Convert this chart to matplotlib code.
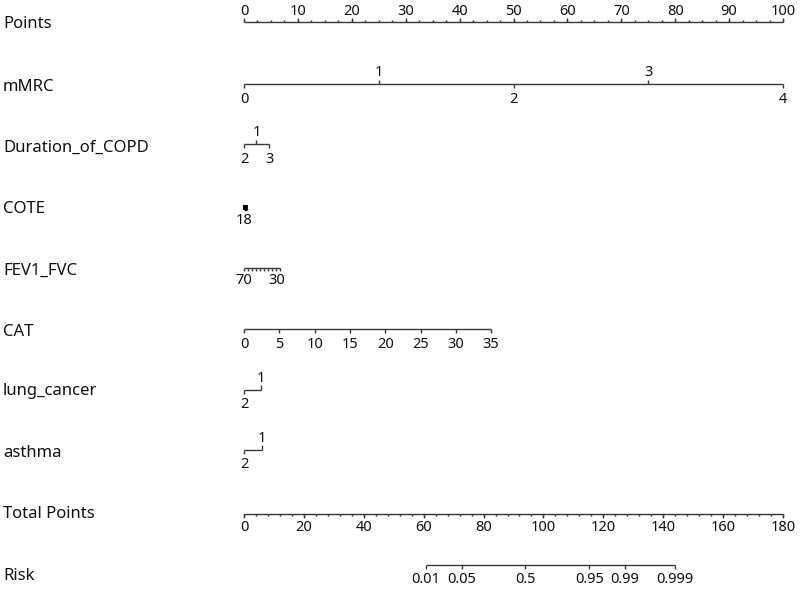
import numpy as np
import matplotlib
matplotlib.use("Agg")
import matplotlib.pyplot as plt

plt.rcParams['font.family'] = ['Noto Sans', 'DejaVu Sans']

# ---- data ----
row_names = ["Points", "mMRC", "Duration_of_COPD", "COTE", "FEV1_FVC", "CAT",
             "lung_cancer", "asthma", "Total Points", "Risk"]

points_major = list(range(0, 101, 10))
points_minor_step = 2.5

mmrc_values = ["0", "1", "2", "3", "4"]
mmrc_points = [0, 25, 50, 75, 100]
mmrc_sides = ["below", "above", "below", "above", "below"]

duration_values = ["2", "1", "3"]
duration_points = [0, 2.3, 4.7]
duration_sides = ["below", "above", "below"]

cote_values = list(range(18, -1, -2))          # 18 ... 0
cote_points = list(np.linspace(0, 0.5, len(cote_values)))
cote_labels = ["18"]

fev_values = [70, 65, 60, 55, 50, 45, 40, 35, 30, 25]
fev_points = [0, 0.75, 1.5, 2.25, 3.0, 3.75, 4.5, 5.25, 6.0, 6.75]
fev_labels = {70: "70", 30: "30"}

cat_values = [0, 5, 10, 15, 20, 25, 30, 35]
cat_points = [0, 6.55, 13.1, 19.65, 26.2, 32.75, 39.3, 45.85]

lung_values = ["2", "1"]
lung_points = [0, 3.2]
asthma_values = ["2", "1"]
asthma_points = [0, 3.3]

total_major = list(range(0, 181, 20))
total_minor_step = 4
total_max = 180

risk_values = [0.01, 0.05, 0.5, 0.95, 0.99, 0.999]
risk_labels = ["0.01", "0.05", "0.5", "0.95", "0.99", "0.999"]
risk_intercept = 94.0   # total points at logit = 0
risk_slope = 7.229      # total points per logit unit

# ---- layout ----
W, H = 800, 590
x0_px, x100_px = 244, 783
scale = (x100_px - x0_px) / 100.0

fig = plt.figure(figsize=(8, 5.9), dpi=100)
ax = fig.add_axes([0, 0, 1, 1])
ax.set_xlim(-x0_px / scale, (W - x0_px) / scale)
ax.set_ylim(H, 0)
ax.axis("off")

LC = "#383838"
LW = 1.0
TICK = 4
FS_LAB = 12
FS_TICK = 10.5
TC = "#111111"

row_y = [22, 84, 144, 210, 268, 329, 390, 450, 514, 565]
name_y = [24, 87, 148, 209, 271, 332, 391, 453, 514, 576]

for name, y in zip(row_names, name_y):
    ax.text(-x0_px / scale + 3 / scale, y, name, fontsize=FS_LAB,
            va="center", ha="left", color=TC)


def hline(x1, x2, y, color=LC):
    ax.plot([x1, x2], [y, y], color=color, lw=LW, solid_capstyle="butt")


def tick(x, y, side, length=TICK, color=LC, lw=LW):
    d = length if side == "below" else -length
    ax.plot([x, x], [y, y + d], color=color, lw=lw, solid_capstyle="butt")


def label(x, y, s, side, gap=5):
    if side == "below":
        ax.text(x, y + gap, s, fontsize=FS_TICK, ha="center", va="top", color=TC)
    else:
        ax.text(x, y - gap, s, fontsize=FS_TICK, ha="center", va="baseline", color=TC)


# Points
y = row_y[0]
hline(0, 100, y)
for v in np.arange(0, 100 + 1e-9, points_minor_step):
    tick(v, y, "above", 2)
for v in points_major:
    tick(v, y, "above", 4)
    label(v, y, str(v), "above", 7)

# mMRC
y = row_y[1]
hline(min(mmrc_points), max(mmrc_points), y)
for s, p, sd in zip(mmrc_values, mmrc_points, mmrc_sides):
    tick(p, y, sd)
    label(p, y, s, sd, 8)

# Duration_of_COPD
y = row_y[2]
hline(min(duration_points), max(duration_points), y)
for s, p, sd in zip(duration_values, duration_points, duration_sides):
    tick(p, y, sd)
    label(p, y, s, sd, 8)

# COTE
y = row_y[3]
hline(min(cote_points), max(cote_points), y, color="#000000")
for p in cote_points:
    tick(p, y, "above", 5, color="#000000", lw=1.3)
label(cote_points[0], y, cote_labels[0], "below", 3)

# FEV1_FVC
y = row_y[4]
hline(min(fev_points), max(fev_points), y)
for v, p in zip(fev_values, fev_points):
    tick(p, y, "below", 3)
    if v in fev_labels:
        label(p, y, fev_labels[v], "below", 5)

# CAT
y = row_y[5]
hline(min(cat_points), max(cat_points), y)
for v, p in zip(cat_values, cat_points):
    tick(p, y, "below")
    label(p, y, str(v), "below", 8)

# lung_cancer / asthma
for idx, (vals, pts) in zip([6, 7], [(lung_values, lung_points), (asthma_values, asthma_points)]):
    y = row_y[idx]
    hline(min(pts), max(pts), y)
    tick(pts[0], y, "below")
    label(pts[0], y, vals[0], "below", 7)
    tick(pts[1], y, "above", 5)
    label(pts[1], y, vals[1], "above", 8)

# Total Points
y = row_y[8]
tp2pts = 100.0 / total_max
hline(0, 100, y)
for v in np.arange(0, total_max + 1e-9, total_minor_step):
    tick(v * tp2pts, y, "below", 2)
for v in total_major:
    tick(v * tp2pts, y, "below", 4)
    label(v * tp2pts, y, str(v), "below", 6)

# Risk
y = row_y[9]
risk_tp = [risk_intercept + risk_slope * np.log(p / (1 - p)) for p in risk_values]
risk_x = [t * tp2pts for t in risk_tp]
hline(min(risk_x), max(risk_x), y)
for xx, lab in zip(risk_x, risk_labels):
    tick(xx, y, "below")
    label(xx, y, lab, "below", 7)

fig.savefig("out.png", dpi=100)
